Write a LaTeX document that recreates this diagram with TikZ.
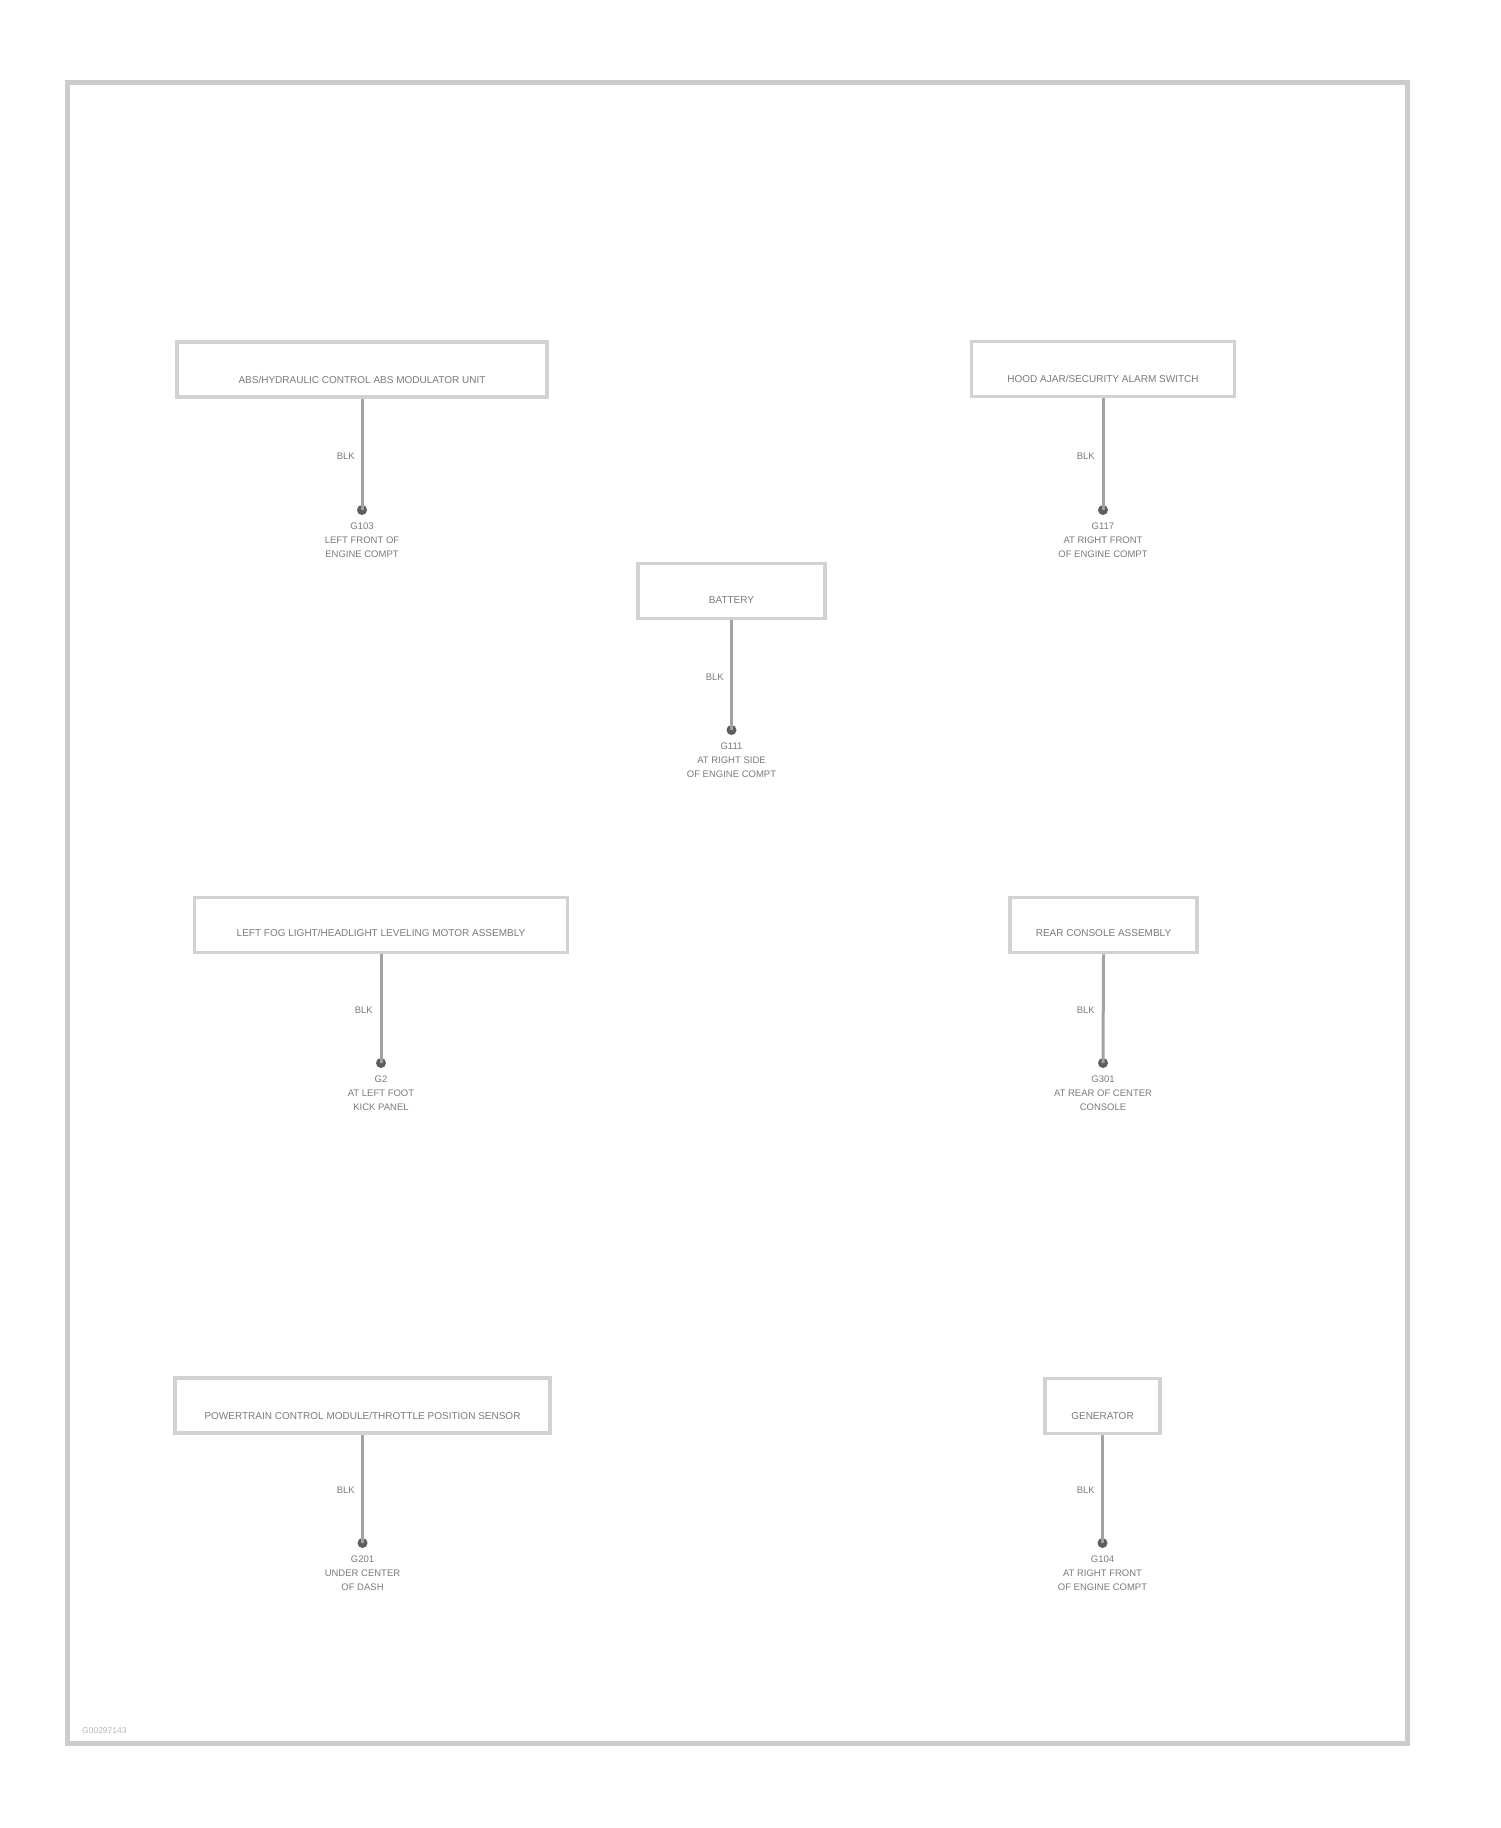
\documentclass[tikz,border=0pt]{standalone}
\usepackage{fontspec}
\setmainfont{Liberation Sans}
\definecolor{framec}{HTML}{CCCCCC}
\definecolor{boxc}{HTML}{D2D2D2}
\definecolor{wirec}{HTML}{A2A2A2}
\definecolor{dotc}{HTML}{5E5E5E}
\definecolor{txtc}{HTML}{7A7A7A}
\tikzset{
  frame/.style={draw=framec, line width=5pt},
  compbox/.style={draw=boxc, line width=3.5pt, rectangle, minimum height=55pt, inner sep=0pt, fill=white},
  boxtext/.style={font=\fontsize{10}{11}\selectfont, text=txtc, inner sep=1pt},
  wire/.style={draw=wirec, line width=3pt},
  gnddot/.style={circle, fill=dotc, minimum size=10pt, inner sep=0pt},
  wirelbl/.style={font=\fontsize{9.5}{10}\selectfont, text=txtc, anchor=east, inner sep=1pt},
  gndlbl/.style={font=\fontsize{9.5}{14}\selectfont, text=txtc, align=center, anchor=north, inner sep=0pt},
  idtext/.style={font=\fontsize{8.5}{9}\selectfont, text=framec!90!black, anchor=west, inner sep=0pt}
}
\begin{document}
\begin{tikzpicture}[x=1pt,y=-1pt]
\useasboundingbox (0,0) rectangle (1500,1828);
\draw[frame] (67,82) rectangle (1407,1743);
\node[idtext] (figid) at (82,1731) {G00297143};

% component 1
\node[compbox, minimum width=370pt] (c1) at (362,369.5) {};
\node[boxtext] (t1) at ([yshift=19pt]c1.south) {ABS/HYDRAULIC CONTROL ABS MODULATOR UNIT};
\node[gnddot] (g1) at (362,510) {};
\draw[wire] (c1.south) -- (g1.center);
\node[wirelbl] (w1) at (356,456) {BLK};
\node[gndlbl] (l1) at (362,523) {G103\\LEFT FRONT OF\\ENGINE COMPT};

% component 2
\node[compbox, minimum width=263pt] (c2) at (1103,369) {};
\node[boxtext] (t2) at ([yshift=19pt]c2.south) {HOOD AJAR/SECURITY ALARM SWITCH};
\node[gnddot] (g2) at (1103,510) {};
\draw[wire] (c2.south) -- (g2.center);
\node[wirelbl] (w2) at (1096,456) {BLK};
\node[gndlbl] (l2) at (1103,523) {G117\\AT RIGHT FRONT\\OF ENGINE COMPT};

% component 3
\node[compbox, minimum width=187pt] (c3) at (731.5,591) {};
\node[boxtext] (t3) at ([yshift=20pt]c3.south) {BATTERY};
\node[gnddot] (g3) at (731.5,730) {};
\draw[wire] (c3.south) -- (g3.center);
\node[wirelbl] (w3) at (725,677) {BLK};
\node[gndlbl] (l3) at (731.5,743) {G111\\AT RIGHT SIDE\\OF ENGINE COMPT};

% component 4
\node[compbox, minimum width=373pt] (c4) at (381,925) {};
\node[boxtext] (t4) at ([yshift=21pt]c4.south) {LEFT FOG LIGHT/HEADLIGHT LEVELING MOTOR ASSEMBLY};
\node[gnddot] (g4) at (381,1063) {};
\draw[wire] (c4.south) -- (g4.center);
\node[wirelbl] (w4) at (374,1010) {BLK};
\node[gndlbl] (l4) at (381,1076) {G2\\AT LEFT FOOT\\KICK PANEL};

% component 5
\node[compbox, minimum width=187pt] (c5) at (1103.5,925) {};
\node[boxtext] (t5) at ([yshift=21pt]c5.south) {REAR CONSOLE ASSEMBLY};
\node[gnddot] (g5) at (1103,1063) {};
\draw[wire] (c5.south) -- (g5.center);
\node[wirelbl] (w5) at (1096,1010) {BLK};
\node[gndlbl] (l5) at (1103,1076) {G301\\AT REAR OF CENTER\\CONSOLE};

% component 6
\node[compbox, minimum width=375pt] (c6) at (362.5,1405.5) {};
\node[boxtext] (t6) at ([yshift=19pt]c6.south) {POWERTRAIN CONTROL MODULE/THROTTLE POSITION SENSOR};
\node[gnddot] (g6) at (362.5,1543) {};
\draw[wire] (c6.south) -- (g6.center);
\node[wirelbl] (w6) at (356,1490) {BLK};
\node[gndlbl] (l6) at (362.5,1556) {G201\\UNDER CENTER\\OF DASH};

% component 7
\node[compbox, minimum width=115pt] (c7) at (1102.5,1406) {};
\node[boxtext] (t7) at ([yshift=19pt]c7.south) {GENERATOR};
\node[gnddot] (g7) at (1102.5,1543) {};
\draw[wire] (c7.south) -- (g7.center);
\node[wirelbl] (w7) at (1096,1490) {BLK};
\node[gndlbl] (l7) at (1102.5,1556) {G104\\AT RIGHT FRONT\\OF ENGINE COMPT};
\end{tikzpicture}
\end{document}
